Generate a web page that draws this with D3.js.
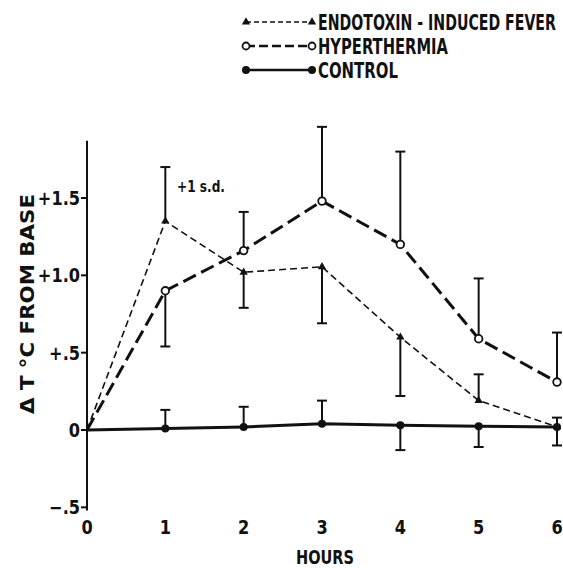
<!DOCTYPE html>
<html>
<head>
<meta charset="utf-8">
<script src="https://cdn.jsdelivr.net/npm/d3@7"></script>
<style>
  body { margin: 0; background: #fff; }
  text { font-family: "DejaVu Sans", sans-serif; font-weight: bold; fill: #111; }
</style>
</head>
<body>
<svg id="chart" width="563" height="568"></svg>
<script>
// data
const hours = [0, 1, 2, 3, 4, 5, 6];
const endotoxin   = [0, 1.35, 1.02, 1.055, 0.6, 0.19, 0.02];
const endoSd      = [null, 1.70, 0.79, 0.69, 0.22, 0.36, null];   // end of +/-1 s.d. bar
const hyper       = [0, 0.90, 1.16, 1.48, 1.20, 0.59, 0.31];
const hyperSd     = [null, 0.54, 1.41, 1.96, 1.80, 0.98, 0.63];
const control     = [0, 0.01, 0.02, 0.04, 0.03, 0.025, 0.02];
const controlSd   = [null, 0.13, 0.15, 0.19, -0.13, -0.11, -0.10];
const controlSd2  = [null, null, null, null, null, null, 0.08];
const yTicks = [-0.5, 0, 0.5, 1.0, 1.5];
const yTickLabels = ["\u2212.5", "0", "+.5", "+1.0", "+1.5"];
const legendNames = ["ENDOTOXIN - INDUCED FEVER", "HYPERTHERMIA", "CONTROL"];
const legendWidths = [238, 130, 80];

const svg = d3.select("#chart");
const x = d3.scaleLinear().domain([0, 6]).range([87, 557]);
const y = d3.scaleLinear().domain([0, 1.5]).range([430, 198]);

const ink = "#111";

// squeeze a text horizontally to a given width (fake condensed face)
function fitWidth(sel, tx, ty, w, sy) {
  const nat = sel.node().getComputedTextLength();
  sel.attr("transform", `translate(${tx},${ty}) scale(${w / nat},${sy || 1})`);
}

// y axis line
svg.append("line")
  .attr("x1", x(0)).attr("x2", x(0))
  .attr("y1", y(1.87)).attr("y2", y(-0.52))
  .attr("stroke", ink).attr("stroke-width", 2);

// y ticks + labels
const yt = svg.append("g");
yTicks.forEach((v, i) => {
  yt.append("line")
    .attr("x1", x(0) - 6).attr("x2", x(0))
    .attr("y1", y(v)).attr("y2", y(v))
    .attr("stroke", ink).attr("stroke-width", 2);
  yt.append("text")
    .attr("transform", `translate(${x(0) - 7},${y(v) + 7}) scale(0.85,1)`)
    .attr("text-anchor", "end").attr("font-size", 19)
    .text(yTickLabels[i]);
});

// x tick labels (no axis line)
svg.append("g").selectAll("text")
  .data(hours).join("text")
    .attr("transform", d => `translate(${x(d)},534) scale(0.85,1)`)
    .attr("text-anchor", "middle").attr("font-size", 19)
    .text(d => d);

const hoursLabel = svg.append("text").attr("font-size", 20).text("HOURS");
fitWidth(hoursLabel, x(3) - 26, 564, 58);

const yLabel = svg.append("text").attr("font-size", 19).text("\u0394 T \u00B0C FROM BASE");
const yNat = yLabel.node().getComputedTextLength();
yLabel.attr("transform", `translate(34,414) rotate(-90) scale(${220 / yNat},1)`);

const sdLabel = svg.append("text").attr("font-size", 16).text("+1 s.d.");
fitWidth(sdLabel, 177, 192, 48);

// error bars
function errBars(vals, ends) {
  const g = svg.append("g").attr("stroke", ink).attr("stroke-width", 2);
  hours.forEach((h, i) => {
    if (ends[i] == null) return;
    g.append("line")
      .attr("x1", x(h)).attr("x2", x(h))
      .attr("y1", y(vals[i])).attr("y2", y(ends[i]));
    g.append("line")
      .attr("x1", x(h) - 5).attr("x2", x(h) + 5)
      .attr("y1", y(ends[i])).attr("y2", y(ends[i]));
  });
}
errBars(endotoxin, endoSd);
errBars(hyper, hyperSd);
errBars(control, controlSd);
errBars(control, controlSd2);

// lines
const line = d3.line().x((d, i) => x(hours[i])).y(d => y(d));

svg.append("path").datum(endotoxin)
  .attr("d", line).attr("fill", "none")
  .attr("stroke", ink).attr("stroke-width", 1.6)
  .attr("stroke-dasharray", "7,4");

svg.append("path").datum(hyper)
  .attr("d", line).attr("fill", "none")
  .attr("stroke", ink).attr("stroke-width", 3)
  .attr("stroke-dasharray", "14,6");

svg.append("path").datum(control)
  .attr("d", line).attr("fill", "none")
  .attr("stroke", ink).attr("stroke-width", 3);

// markers
const tri = d3.symbol().type(d3.symbolTriangle).size(30);
svg.append("g").selectAll("path")
  .data(endotoxin.slice(1)).join("path")
    .attr("transform", (d, i) => `translate(${x(hours[i + 1])},${y(d)})`)
    .attr("d", tri).attr("fill", ink);

svg.append("g").selectAll("circle")
  .data(hyper.slice(1)).join("circle")
    .attr("cx", (d, i) => x(hours[i + 1])).attr("cy", d => y(d))
    .attr("r", 3.8).attr("fill", "#fff").attr("stroke", ink).attr("stroke-width", 1.8);

svg.append("g").selectAll("circle")
  .data(control.slice(1)).join("circle")
    .attr("cx", (d, i) => x(hours[i + 1])).attr("cy", d => y(d))
    .attr("r", 4).attr("fill", ink);

// legend
const leg = svg.append("g");
const legY = [22, 46, 70];
const legX0 = 246, legX1 = 312;
// endotoxin
leg.append("line").attr("x1", legX0).attr("x2", legX1).attr("y1", legY[0]).attr("y2", legY[0])
  .attr("stroke", ink).attr("stroke-width", 1.6).attr("stroke-dasharray", "5,3");
[legX0, legX1].forEach(px => leg.append("path")
  .attr("transform", `translate(${px},${legY[0]})`).attr("d", tri).attr("fill", ink));
// hyperthermia
leg.append("line").attr("x1", legX0).attr("x2", legX1).attr("y1", legY[1]).attr("y2", legY[1])
  .attr("stroke", ink).attr("stroke-width", 2.5).attr("stroke-dasharray", "9,4");
[legX0, legX1].forEach(px => leg.append("circle")
  .attr("cx", px).attr("cy", legY[1]).attr("r", 3.5)
  .attr("fill", "#fff").attr("stroke", ink).attr("stroke-width", 1.8));
// control
leg.append("line").attr("x1", legX0).attr("x2", legX1).attr("y1", legY[2]).attr("y2", legY[2])
  .attr("stroke", ink).attr("stroke-width", 2.5);
[legX0, legX1].forEach(px => leg.append("circle")
  .attr("cx", px).attr("cy", legY[2]).attr("r", 4).attr("fill", ink));

leg.selectAll("text").data(legendNames).join("text")
  .attr("font-size", 18)
  .text(d => d)
  .each(function (d, i) {
    fitWidth(d3.select(this), 318, legY[i] + 8, legendWidths[i], 1.15);
  });
</script>
</body>
</html>
